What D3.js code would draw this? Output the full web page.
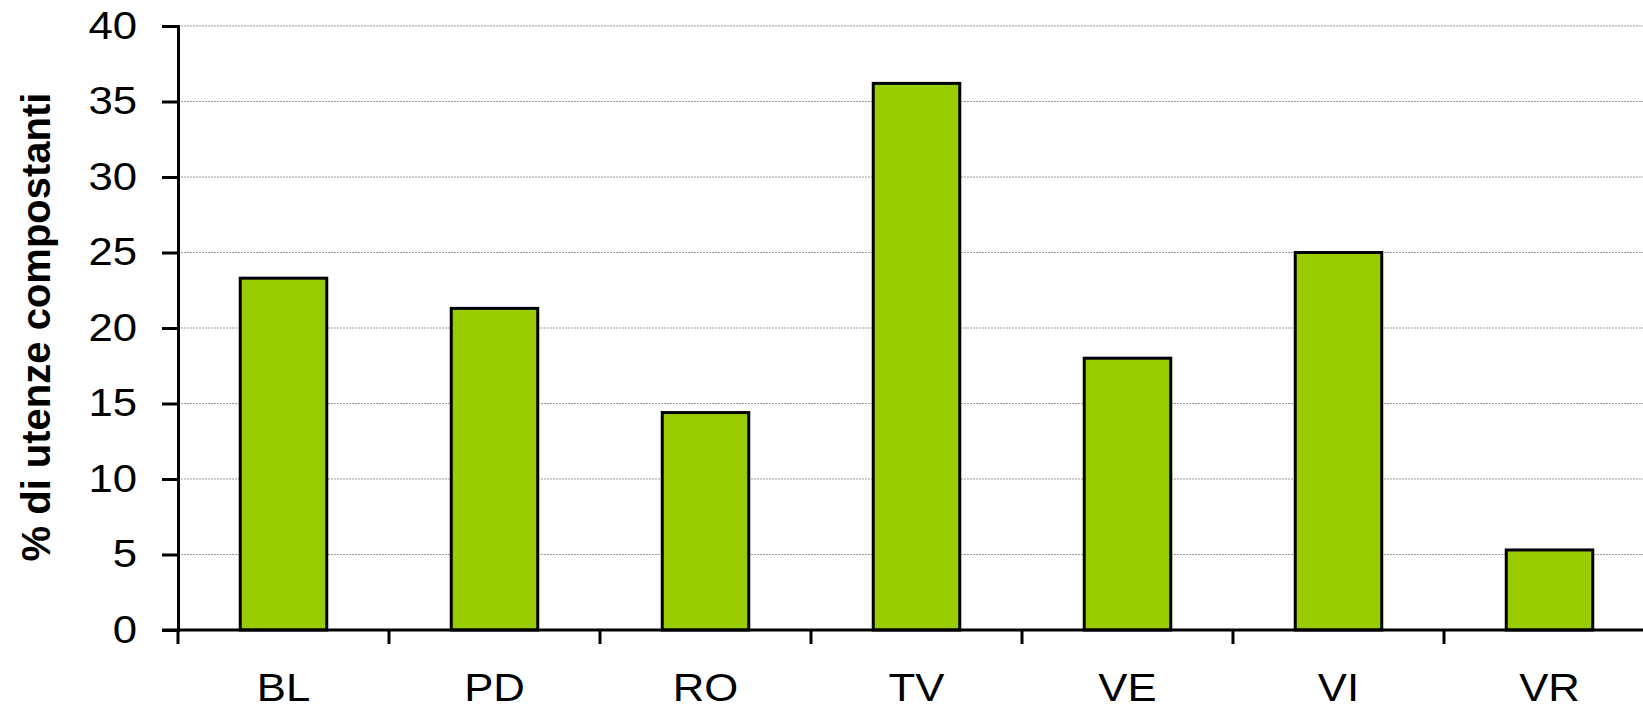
<!DOCTYPE html>
<html>
<head>
<meta charset="utf-8">
<script src="https://cdn.jsdelivr.net/npm/d3@7"></script>
<style>
  body { margin: 0; background: #fff; }
  svg text { font-family: "Liberation Sans", Arial, sans-serif; fill: #000; }
</style>
</head>
<body>
<div id="chart"></div>
<script>
// data
var provinces = ["BL", "PD", "RO", "TV", "VE", "VI", "VR"];
var percent = [23.3, 21.3, 14.4, 36.2, 18.0, 25.0, 5.3];
var yTicks = [0, 5, 10, 15, 20, 25, 30, 35, 40];

var width = 1643, height = 710;
var margin = {top: 26, bottom: 80, left: 178};
var stepPx = 211;   // category width, the last one runs past the edge
var stretch = 1.15; // text is a bit wider than plain Arial in the original

var svg = d3.select("#chart")
	.append("svg")
	.attr("width", width)
	.attr("height", height);

var g = svg.append("g")
	.attr("transform", "translate(" + margin.left + "," + margin.top + ")");

var innerW = stepPx * provinces.length;
var innerH = height - margin.top - margin.bottom;
var gridW = width - margin.left;

var x = d3.scaleBand()
	.domain(provinces)
	.range([0, innerW])
	.paddingInner(0.59)
	.paddingOuter(0.295);

var y = d3.scaleLinear()
	.domain([0, 40])
	.range([innerH, 0]);

// dotted grid lines
g.append("g")
	.selectAll("line")
	.data(yTicks.slice(1))
	.enter()
	.append("line")
	.attr("x1", 0)
	.attr("x2", gridW)
	.attr("y1", function(d) { return y(d); })
	.attr("y2", function(d) { return y(d); })
	.style("stroke", "#999")
	.style("stroke-width", "1px")
	.style("stroke-dasharray", "2,1");

// bars
g.append("g")
	.selectAll("rect")
	.data(percent)
	.enter()
	.append("rect")
	.attr("x", function(d, i) { return x(provinces[i]); })
	.attr("width", x.bandwidth())
	.attr("y", function(d) { return y(d); })
	.attr("height", function(d) { return innerH - y(d); })
	.style("fill", "#99cc00")
	.style("stroke", "#000")
	.style("stroke-width", "3px");

// y axis
var yAxis = d3.axisLeft(y)
	.tickValues(yTicks)
	.tickSize(16);

var yg = g.append("g").call(yAxis);
yg.select(".domain").style("stroke-width", "3px");
yg.selectAll(".tick line").style("stroke-width", "3px");
yg.selectAll("text")
	.attr("x", -41 / stretch)
	.attr("transform", "scale(" + stretch + ",1)")
	.style("font-size", "38px");

// x axis, labels only
var xAxis = d3.axisBottom(x)
	.tickSize(0)
	.tickPadding(44);

var xg = g.append("g")
	.attr("transform", "translate(0," + innerH + ")")
	.call(xAxis);
xg.select(".domain").remove();
xg.selectAll("text")
	.attr("transform", "scale(" + stretch + ",1)")
	.style("font-size", "38px");

// baseline + ticks between categories
g.append("line")
	.attr("x1", -16)
	.attr("x2", gridW)
	.attr("y1", innerH)
	.attr("y2", innerH)
	.style("stroke", "#000")
	.style("stroke-width", "3px");

var bounds = d3.range(provinces.length).map(function(i) { return i * x.step(); });
g.append("g")
	.selectAll("line")
	.data(bounds)
	.enter()
	.append("line")
	.attr("x1", function(d) { return d; })
	.attr("x2", function(d) { return d; })
	.attr("y1", innerH)
	.attr("y2", innerH + 14)
	.style("stroke", "#000")
	.style("stroke-width", "3px");

// axis title
svg.append("text")
	.attr("transform", "translate(50,327) rotate(-90)")
	.style("text-anchor", "middle")
	.style("font-weight", "bold")
	.style("font-size", "40px")
	.text("% di utenze compostanti");
</script>
</body>
</html>
